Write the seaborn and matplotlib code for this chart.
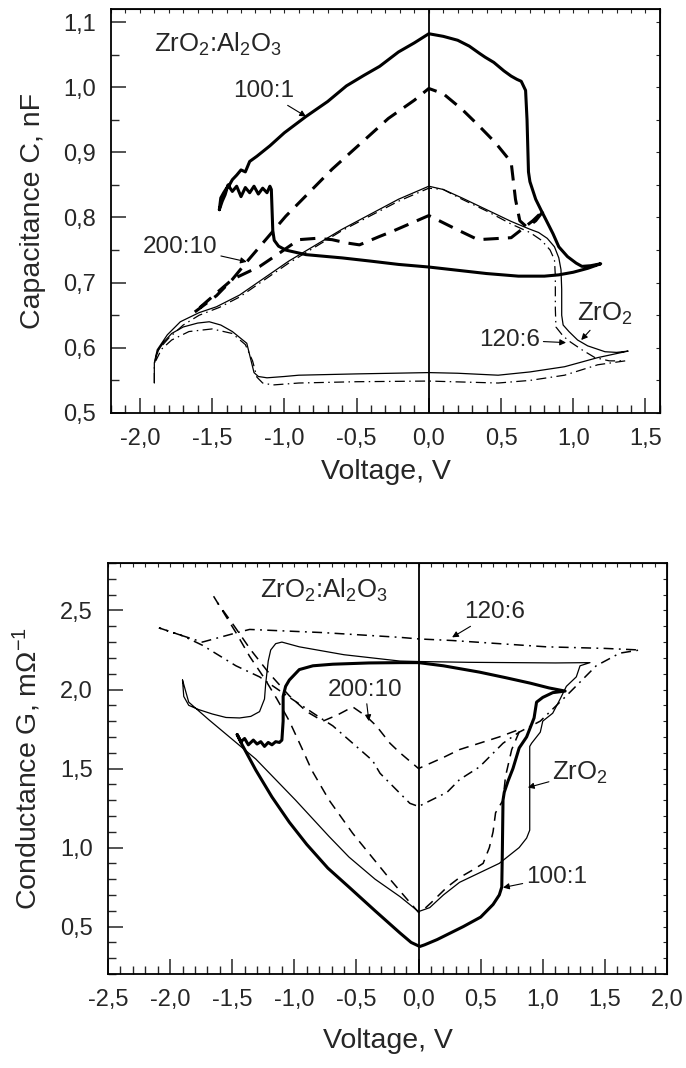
import numpy as np
import pandas as pd
import seaborn as sns
import matplotlib
matplotlib.use("Agg")
import matplotlib.pyplot as plt
from matplotlib.ticker import MultipleLocator, FuncFormatter

# ---------------- top panel: capacitance C (nF) vs voltage (V) ----------------
# 100:1, thick solid loop
cap_100_v = [-1.45, -1.44, -1.42, -1.40, -1.38, -1.36, -1.33, -1.30, -1.27, -1.24, -1.19,
             -1.10, -1.00, -0.85, -0.70, -0.57, -0.45, -0.34, -0.21, -0.10, 0.00, 0.10,
             0.20, 0.28, 0.35, 0.39, 0.45, 0.52, 0.57, 0.61, 0.64, 0.67, 0.68, 0.69,
             0.70, 0.74, 0.78, 0.81, 0.86, 0.90, 0.96, 1.02, 1.06, 1.12, 1.19,
             1.10, 1.00, 0.90, 0.80, 0.62, 0.40, 0.20, 0.00, -0.21, -0.40, -0.60,
             -0.85, -0.99, -1.04, -1.07, -1.08, -1.09, -1.10, -1.12, -1.15, -1.18,
             -1.21, -1.24, -1.27, -1.30, -1.33, -1.36, -1.39, -1.41, -1.43, -1.45]
cap_100_c = [0.812, 0.830, 0.838, 0.845, 0.850, 0.858, 0.865, 0.873, 0.870, 0.886, 0.894,
             0.910, 0.930, 0.955, 0.978, 1.002, 1.018, 1.032, 1.054, 1.068, 1.082, 1.078,
             1.072, 1.063, 1.052, 1.046, 1.038, 1.025, 1.017, 1.012, 1.009, 0.995, 0.950, 0.870,
             0.855, 0.828, 0.810, 0.797, 0.775, 0.755, 0.740, 0.730, 0.725, 0.726, 0.729,
             0.722, 0.716, 0.712, 0.710, 0.710, 0.714, 0.719, 0.724, 0.728, 0.733, 0.738,
             0.743, 0.750, 0.756, 0.765, 0.780, 0.843, 0.848, 0.838, 0.845, 0.836,
             0.848, 0.838, 0.846, 0.832, 0.848, 0.840, 0.850, 0.835, 0.825, 0.812]

# 200:10, thick dashed loop
cap_200_v = [-1.62, -1.47, -1.36, -1.26, -0.99, -0.67, -0.28, -0.10, 0.00, 0.10, 0.23,
             0.35, 0.46, 0.57, 0.60, 0.63, 0.68, 0.74, 0.80,
             0.72, 0.57, 0.34, 0.19, 0.00, -0.26, -0.34, -0.48, -0.57, -0.67, -0.78,
             -0.90, -1.03, -1.17, -1.36, -1.47, -1.62]
cap_200_c = [0.655, 0.680, 0.705, 0.732, 0.802, 0.874, 0.952, 0.980, 0.998, 0.990, 0.966,
             0.940, 0.915, 0.885, 0.828, 0.795, 0.785, 0.795, 0.812,
             0.795, 0.769, 0.766, 0.782, 0.803, 0.778, 0.771, 0.758, 0.761, 0.766, 0.768,
             0.766, 0.746, 0.725, 0.705, 0.684, 0.655]

# ZrO2, thin solid loop
cap_zr_v = [-1.90, -1.90, -1.88, -1.81, -1.72, -1.59, -1.47, -1.31, -0.97, -0.60, -0.21,
            0.00, 0.10, 0.23, 0.40, 0.57, 0.70, 0.76, 0.82, 0.87, 0.90, 0.915, 0.92,
            0.92, 0.93, 0.97, 1.03, 1.10, 1.22, 1.30, 1.38,
            1.17, 0.94, 0.70, 0.48, 0.20, 0.00, -0.50, -0.90, -1.00, -1.12, -1.18,
            -1.21, -1.23, -1.26, -1.36, -1.44, -1.52, -1.60, -1.70, -1.78, -1.83,
            -1.87, -1.89]
cap_zr_c = [0.546, 0.577, 0.597, 0.620, 0.640, 0.654, 0.663, 0.681, 0.733, 0.782, 0.828,
            0.848, 0.843, 0.830, 0.812, 0.794, 0.782, 0.777, 0.768, 0.755, 0.738, 0.720, 0.690,
            0.650, 0.635, 0.625, 0.612, 0.603, 0.594, 0.593, 0.595,
            0.585, 0.571, 0.563, 0.558, 0.561, 0.562, 0.560, 0.558, 0.556, 0.554, 0.556,
            0.562, 0.580, 0.607, 0.625, 0.635, 0.640, 0.638, 0.632, 0.622, 0.610,
            0.597, 0.585]

# 120:6, thin dash-dot loop
cap_120_v = [-1.90, -1.90, -1.88, -1.80, -1.70, -1.59, -1.45, -1.31, -0.97, -0.60, -0.21,
             0.00, 0.10, 0.23, 0.40, 0.57, 0.70, 0.78, 0.84, 0.87, 0.876, 0.876, 0.88,
             0.93, 0.98, 1.06, 1.15, 1.25, 1.36,
             1.17, 0.94, 0.70, 0.48, 0.00, -0.50, -0.90, -1.08, -1.15, -1.19, -1.22,
             -1.27, -1.36, -1.50, -1.66, -1.78, -1.85, -1.89]
cap_120_c = [0.546, 0.575, 0.595, 0.615, 0.635, 0.650, 0.662, 0.678, 0.730, 0.780, 0.825,
             0.845, 0.843, 0.828, 0.810, 0.790, 0.777, 0.765, 0.750, 0.735, 0.710, 0.660, 0.632,
             0.618, 0.609, 0.597, 0.585, 0.580, 0.580,
             0.574, 0.558, 0.550, 0.546, 0.549, 0.548, 0.546, 0.543, 0.546, 0.555, 0.580,
             0.605, 0.622, 0.629, 0.625, 0.612, 0.598, 0.580]

# ---------------- bottom panel: conductance G (mOhm^-1) vs voltage (V) ----------------
# 100:1, thick solid loop
g_100_v = [-1.46, -1.43, -1.40, -1.37, -1.33, -1.30, -1.27, -1.24, -1.21, -1.18, -1.15,
           -1.12, -1.10, -1.09, -1.09, -1.07, -1.04, -0.96, -0.85, -0.69, -0.40, -0.15,
           0.00, 0.20, 0.49, 0.70, 0.90, 1.05, 1.18,
           1.08, 1.00, 0.95, 0.93, 0.87, 0.81, 0.76, 0.72, 0.69, 0.68, 0.675, 0.67,
           0.65, 0.60, 0.50, 0.36, 0.15, 0.05, 0.01,
           -0.06, -0.15, -0.35, -0.56, -0.73, -0.90, -1.04, -1.18, -1.31, -1.42, -1.46]
g_100_g = [1.715, 1.670, 1.690, 1.650, 1.680, 1.655, 1.670, 1.640, 1.665, 1.650, 1.670,
           1.665, 1.680, 1.800, 1.956, 2.020, 2.060, 2.126, 2.150, 2.160, 2.168, 2.170,
           2.170, 2.150, 2.110, 2.075, 2.040, 2.010, 1.990,
           1.980, 1.950, 1.920, 1.820, 1.700, 1.630, 1.500, 1.420, 1.350, 1.300, 1.000, 0.750,
           0.700, 0.640, 0.560, 0.500, 0.418, 0.385, 0.374,
           0.400, 0.460, 0.600, 0.750, 0.870, 1.020, 1.160, 1.320, 1.490, 1.650, 1.715]

# ZrO2, thin solid loop
g_zr_v = [-1.90, -1.89, -1.85, -1.77, -1.66, -1.55, -1.44, -1.35, -1.28, -1.24, -1.23,
          -1.21, -1.19, -1.15, -1.10, -0.96, -0.60, -0.15, 0.00, 0.40, 0.76, 1.10, 1.38,
          1.30, 1.27, 1.19, 1.14, 1.08, 1.00, 0.98, 0.91, 0.895, 0.895, 0.87, 0.81,
          0.65, 0.49, 0.33, 0.20, 0.09, 0.00,
          -0.15, -0.35, -0.56, -0.72, -0.99, -1.31, -1.69, -1.85, -1.90]
g_zr_g = [2.060, 1.956, 1.900, 1.873, 1.845, 1.823, 1.820, 1.830, 1.860, 1.940, 2.040,
          2.180, 2.250, 2.290, 2.300, 2.270, 2.220, 2.180, 2.177, 2.172, 2.170, 2.168, 2.170,
          2.150, 2.080, 2.020, 1.940, 1.850, 1.800, 1.730, 1.660, 1.640, 1.110, 1.060, 1.000,
          0.900, 0.840, 0.780, 0.700, 0.620, 0.595,
          0.690, 0.800, 0.940, 1.070, 1.300, 1.560, 1.810, 1.920, 2.060]

# 200:10, thin dashed loop
g_200_v = [-1.65, -1.47, -1.36, -1.24, -1.14, -1.04, -0.94, -0.86, -0.72, -0.53, -0.23,
           -0.10, 0.00, 0.03, 0.10, 0.23, 0.33, 0.44, 0.52, 0.57, 0.60, 0.62, 0.68, 0.70,
           0.75, 0.82,
           0.65, 0.49, 0.33, 0.20, 0.00, -0.15, -0.23, -0.34, -0.42, -0.53, -0.65, -0.77,
           -0.90, -1.04, -1.20, -1.35, -1.50, -1.62]
g_200_g = [2.590, 2.360, 2.210, 2.070, 1.940, 1.800, 1.630, 1.490, 1.300, 1.090, 0.800,
           0.680, 0.590, 0.600, 0.650, 0.750, 0.810, 0.860, 0.900, 1.000, 1.100, 1.220, 1.300, 1.450,
           1.620, 1.750,
           1.700, 1.660, 1.620, 1.570, 1.500, 1.600, 1.660, 1.770, 1.830, 1.890, 1.840, 1.800,
           1.860, 1.960, 2.100, 2.250, 2.420, 2.550]

# 120:6, thin dash-dot loop
g_120_v = [-2.09, -1.90, -1.74, -1.60, -1.46, -1.36, -0.77, -0.15, 0.00, 0.27, 1.03,
           1.50, 1.78,
           1.62, 1.43, 1.19, 0.98, 0.81, 0.68, 0.49, 0.33, 0.23, 0.00,
           -0.07, -0.31, -0.37, -0.69, -0.77, -1.02, -1.28, -1.47, -1.74, -1.90, -2.09]
g_120_g = [2.390, 2.340, 2.300, 2.330, 2.360, 2.380, 2.360, 2.330, 2.320, 2.310, 2.270,
           2.260, 2.250,
           2.230, 2.150, 1.960, 1.800, 1.730, 1.660, 1.510, 1.430, 1.350, 1.260,
           1.280, 1.470, 1.550, 1.770, 1.810, 1.940, 2.080, 2.150, 2.280, 2.340, 2.390]


def comma(x, pos):
    return "{:.1f}".format(x).replace(".", ",")


def style_axes(ax, xmaj, xmin, ymaj, ymin):
    ax.xaxis.set_major_locator(MultipleLocator(xmaj))
    ax.xaxis.set_minor_locator(MultipleLocator(xmin))
    ax.yaxis.set_major_locator(MultipleLocator(ymaj))
    ax.yaxis.set_minor_locator(MultipleLocator(ymin))
    ax.xaxis.set_major_formatter(FuncFormatter(comma))
    ax.yaxis.set_major_formatter(FuncFormatter(comma))
    ax.tick_params(which="major", direction="in", length=11, width=1.1,
                   labelsize=17, pad=11, bottom=True, left=True, top=False, right=False)
    ax.tick_params(which="minor", direction="in", length=5.5, width=1.0,
                   bottom=True, left=True, top=False, right=False)
    for s in ax.spines.values():
        s.set_visible(True)
        s.set_color("black")
        s.set_linewidth(1.3)
    # short inward ticks on top and right spines
    sx = ax.secondary_xaxis("top")
    sx.xaxis.set_major_locator(MultipleLocator(xmin))
    sx.tick_params(direction="in", length=3, width=0.8, top=True, labeltop=False)
    sy = ax.secondary_yaxis("right")
    sy.yaxis.set_major_locator(MultipleLocator(ymin))
    sy.tick_params(direction="in", length=3, width=0.8, right=True, labelright=False)
    ax.axvline(0, color="black", lw=1.3, zorder=1)


def curve(ax, v, y, lw, ls="-"):
    df = pd.DataFrame({"V": v, "Y": y})
    sns.lineplot(data=df, x="V", y="Y", sort=False, estimator=None, color="black",
                 lw=lw, linestyle=ls, ax=ax)


sns.set_style("white")
plt.rcParams["font.family"] = ["Liberation Sans", "DejaVu Sans"]
plt.rcParams["mathtext.fontset"] = "custom"
plt.rcParams["mathtext.rm"] = "Liberation Sans"
plt.rcParams["mathtext.it"] = "Liberation Sans:italic"
plt.rcParams["mathtext.bf"] = "Liberation Sans:bold"

fig = plt.figure(figsize=(6.86, 10.68), dpi=100)
ax1 = fig.add_axes([0.1618, 0.6133, 0.8002, 0.3783])
ax2 = fig.add_axes([0.1574, 0.0880, 0.8149, 0.3848])

arrow = dict(arrowstyle="-|>", color="black", lw=0.8, mutation_scale=9,
             shrinkA=0, shrinkB=0)

# ---- top panel ----
curve(ax1, cap_zr_v, cap_zr_c, 0.9)
curve(ax1, cap_120_v, cap_120_c, 0.9, (0, (8, 3.5, 1.2, 3.5)))
curve(ax1, cap_200_v, cap_200_c, 2.2, (0, (5, 3)))
curve(ax1, cap_100_v, cap_100_c, 2.2)
ax1.set_xlim(-2.2, 1.6)
ax1.set_ylim(0.5, 1.12)
style_axes(ax1, 0.5, 0.1, 0.1, 0.05)
ax1.set_xlabel("Voltage, V", fontsize=20.5, labelpad=6)
ax1.set_ylabel("Capacitance C, nF", fontsize=20.5, labelpad=12)

ax1.text(-1.90, 1.066, "ZrO$_2$:Al$_2$O$_3$", fontsize=18.5, ha="left", va="center")
ax1.annotate("100:1", xy=(-0.85, 0.955), xytext=(-1.14, 0.994), fontsize=17.5,
             ha="center", va="center", arrowprops=arrow)
ax1.annotate("200:10", xy=(-1.26, 0.732), xytext=(-1.72, 0.755), fontsize=17.5,
             ha="center", va="center", arrowprops=arrow)
ax1.annotate("ZrO$_2$", xy=(1.055, 0.612), xytext=(1.22, 0.652), fontsize=18.5,
             ha="center", va="center", arrowprops=arrow)
ax1.annotate("120:6", xy=(0.95, 0.608), xytext=(0.56, 0.612), fontsize=17.5,
             ha="center", va="center", arrowprops=arrow)

# ---- bottom panel ----
curve(ax2, g_zr_v, g_zr_g, 0.9)
curve(ax2, g_120_v, g_120_g, 1.1, (0, (6.5, 3.5, 1.2, 3.5)))
curve(ax2, g_200_v, g_200_g, 1.1, (0, (6.5, 4.5)))
curve(ax2, g_100_v, g_100_g, 2.2)
ax2.set_xlim(-2.5, 2.0)
ax2.set_ylim(0.2, 2.8)
style_axes(ax2, 0.5, 0.1, 0.5, 0.1)
ax2.set_xlabel("Voltage, V", fontsize=20.5, labelpad=12)
ax2.set_ylabel("Conductance G, mΩ$^{-1}$", fontsize=20.5, labelpad=12)

ax2.text(-1.28, 2.63, "ZrO$_2$:Al$_2$O$_3$", fontsize=18.5, ha="left", va="center")
ax2.annotate("120:6", xy=(0.27, 2.33), xytext=(0.61, 2.49), fontsize=17.5,
             ha="center", va="center", arrowprops=arrow)
ax2.annotate("200:10", xy=(-0.40, 1.80), xytext=(-0.43, 2.00), fontsize=17.5,
             ha="center", va="center", arrowprops=arrow)
ax2.annotate("ZrO$_2$", xy=(0.88, 1.38), xytext=(1.30, 1.47), fontsize=18.5,
             ha="center", va="center", arrowprops=arrow)
ax2.annotate("100:1", xy=(0.68, 0.747), xytext=(1.11, 0.816), fontsize=17.5,
             ha="center", va="center", arrowprops=arrow)

fig.savefig("out.png", dpi=100)
